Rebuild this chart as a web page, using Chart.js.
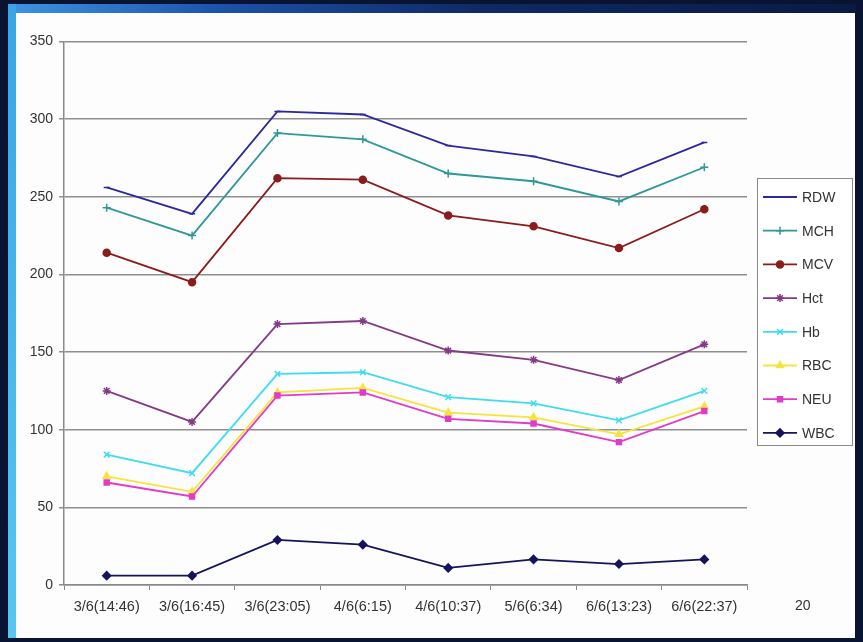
<!DOCTYPE html>
<html>
<head>
<meta charset="utf-8">
<script src="https://cdn.jsdelivr.net/npm/chart.js@4/dist/chart.umd.min.js"></script>
<style>
  html, body { margin: 0; padding: 0; }
  body { width: 863px; height: 642px; background: #081432; position: relative; overflow: hidden; }
  .band-top { position: absolute; left: 8px; top: 4px; width: 848px; height: 9px;
    background: linear-gradient(to right, #3d94e2 0%, #1c52aa 25%, #0f2a66 55%, #0a1a44 100%); }
  .band-left { position: absolute; left: 8px; top: 4px; width: 8px; height: 634px;
    background: linear-gradient(to bottom, #3aa4e6, #58c6f0); }
  .panel { position: absolute; left: 16px; top: 13px; width: 839px; height: 625px; background: #fdfdfd; }
  canvas { position: absolute; left: 0; top: 0; }
  .slide-no { position: absolute; left: 795px; top: 597px; font: 14px "Liberation Sans", Arial, sans-serif; color: #333; }
</style>
</head>
<body>
<div class="band-top"></div>
<div class="band-left"></div>
<div class="panel"></div>
<canvas id="c" width="863" height="642"></canvas>
<div class="slide-no">20</div>
<script>
// Sampling times (day/month(hh:mm))
const categories = ['3/6(14:46)', '3/6(16:45)', '3/6(23:05)', '4/6(6:15)', '4/6(10:37)', '5/6(6:34)', '6/6(13:23)', '6/6(22:37)'];

// Blood count series
const WBC = [6, 6, 29, 26, 11, 16.5, 13.5, 16.5];
const NEU = [66, 57, 122, 124, 107, 104, 92, 112];
const RBC = [70, 60, 124, 127, 111, 108, 97, 115];
const Hb  = [84, 72, 136, 137, 121, 117, 106, 125];
const Hct = [125, 105, 168, 170, 151, 145, 132, 155];
const MCV = [214, 195, 262, 261, 238, 231, 217, 242];
const MCH = [243, 225, 291, 287, 265, 260, 247, 269];
const RDW = [256, 239, 305, 303, 283, 276, 263, 285];

// Value axis ticks
const yTicks = [0, 50, 100, 150, 200, 250, 300, 350];

const FONT = '"Liberation Sans", Arial, sans-serif';

function series(label, data, color, style, radius) {
  return {
    label, data,
    borderColor: color, backgroundColor: color,
    borderWidth: 1.8,
    pointStyle: style, pointRadius: radius,
    pointBorderColor: color, pointBackgroundColor: color,
    pointBorderWidth: 1.5,
    tension: 0, fill: false
  };
}

const datasets = [
  series('WBC', WBC, '#14145e', 'rectRot', 4),
  series('NEU', NEU, '#e23acb', 'rect', 3.5),
  series('RBC', RBC, '#f4e43c', 'triangle', 4),
  series('Hb',  Hb,  '#3fdcef', 'crossRot', 4),
  series('Hct', Hct, '#843a86', 'star', 4),
  series('MCV', MCV, '#8c1c1c', 'circle', 3.5),
  series('MCH', MCH, '#2f9898', 'cross', 4),
  series('RDW', RDW, '#2a2a9c', 'line', 3)
];

// Boxed legend on the right, last series listed first
const boxedLegend = {
  id: 'boxedLegend',
  afterDraw(chart) {
    const ctx = chart.ctx;
    const left = 757, top = 178, right = 852, bottom = 445;
    ctx.save();
    ctx.fillStyle = '#ffffff';
    ctx.fillRect(left, top, right - left, bottom - top);
    ctx.strokeStyle = '#8a8a8a';
    ctx.lineWidth = 1;
    ctx.strokeRect(left + 0.5, top + 0.5, right - left, bottom - top);
    const items = chart.data.datasets.slice().reverse();
    items.forEach((ds, i) => {
      const y = 197 + i * 33.7;
      ctx.strokeStyle = ds.borderColor;
      ctx.lineWidth = 1.8;
      ctx.beginPath();
      ctx.moveTo(763, y);
      ctx.lineTo(797, y);
      ctx.stroke();
      ctx.fillStyle = ds.pointBackgroundColor;
      ctx.strokeStyle = ds.pointBorderColor;
      ctx.lineWidth = ds.pointBorderWidth;
      if (Chart.helpers && Chart.helpers.drawPoint) {
        Chart.helpers.drawPoint(ctx, { pointStyle: ds.pointStyle, radius: ds.pointRadius, borderWidth: ds.pointBorderWidth, rotation: 0 }, 780, y);
      }
      ctx.fillStyle = '#333333';
      ctx.font = '14px ' + FONT;
      ctx.textBaseline = 'middle';
      ctx.textAlign = 'left';
      ctx.fillText(ds.label, 802, y + 1);
    });
    ctx.restore();
  }
};

new Chart(document.getElementById('c'), {
  type: 'line',
  data: { labels: categories, datasets },
  options: {
    responsive: false,
    animation: false,
    layout: { padding: { left: 16, top: 41.5, right: 116, bottom: 20 } },
    plugins: { legend: { display: false }, tooltip: { enabled: false } },
    scales: {
      x: {
        type: 'category',
        offset: true,
        grid: { offset: true, drawOnChartArea: false, drawTicks: true, tickLength: 5, color: '#8a8a8a', lineWidth: 1 },
        border: { display: true, color: '#8a8a8a', width: 1.5 },
        ticks: { color: '#333333', font: { family: FONT, size: 14.5 }, padding: 8, maxRotation: 0, autoSkip: false },
        afterFit(scale) { scale.height = 37; }
      },
      y: {
        min: 0, max: 350,
        afterBuildTicks(scale) { scale.ticks = yTicks.map(v => ({ value: v })); },
        grid: { color: '#8f8f8f', lineWidth: 1.5, drawTicks: true, tickLength: 5 },
        border: { display: true, color: '#8a8a8a', width: 1.5 },
        ticks: { color: '#333333', font: { family: FONT, size: 14 }, padding: 6 },
        afterFit(scale) { scale.width = 48; }
      }
    }
  },
  plugins: [boxedLegend]
});
</script>
</body>
</html>
